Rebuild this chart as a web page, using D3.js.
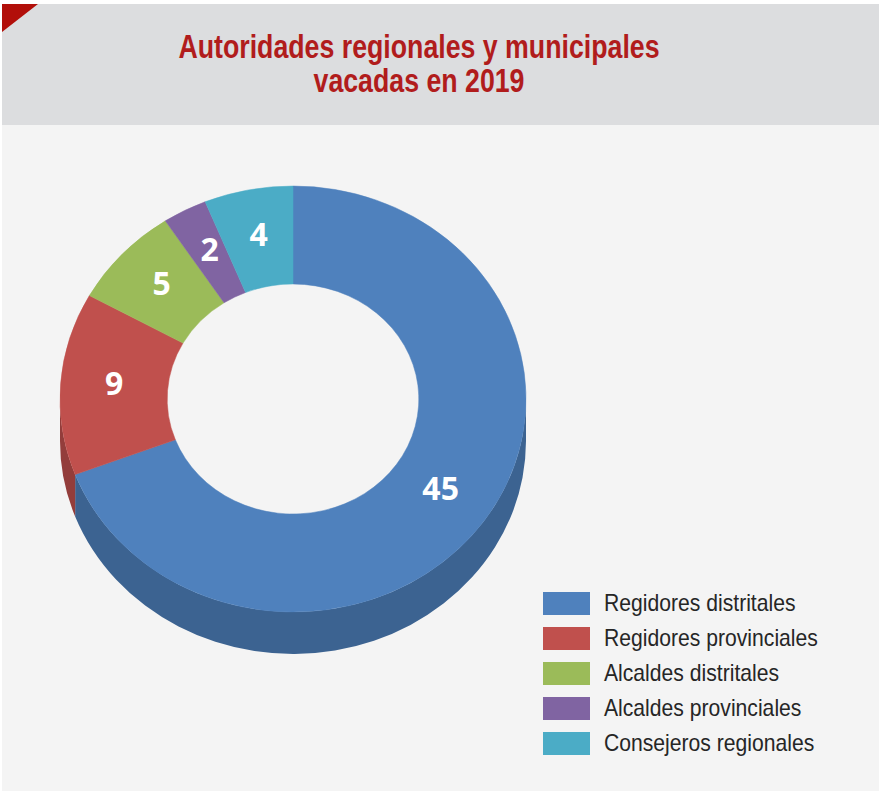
<!DOCTYPE html>
<html>
<head>
<meta charset="utf-8">
<script src="https://cdn.jsdelivr.net/npm/d3@7/dist/d3.min.js"></script>
<style>
  html, body { margin: 0; padding: 0; background: #ffffff; }
  svg { display: block; }
</style>
</head>
<body>
<svg id="chart" width="879" height="792"></svg>
<script>
// Chart data
const titleLines = ["Autoridades regionales y municipales", "vacadas en 2019"];
const categories = ["Regidores distritales", "Regidores provinciales", "Alcaldes distritales", "Alcaldes provinciales", "Consejeros regionales"];
const values = [45, 9, 5, 2, 4];
const colors = ["#4f81bd", "#c0504d", "#9bbb59", "#8064a2", "#4bacc6"];

const W = 879, H = 792;
const svg = d3.select("#chart");

// Panel background
svg.append("rect").attr("x", 2).attr("y", 4).attr("width", W - 2).attr("height", H - 5).attr("fill", "#f4f4f4");
svg.append("rect").attr("x", 2).attr("y", 4).attr("width", W - 2).attr("height", 121).attr("fill", "#dcdddf");
svg.append("path").attr("d", "M2,4 L38,4 L2,32 Z").attr("fill", "#b20f0a");

// Title
const title = svg.append("g").attr("transform", "translate(419,0)");
titleLines.forEach((t, i) => {
  title.append("text")
    .attr("transform", `translate(0,${58 + i * 34}) scale(0.81,1)`)
    .attr("text-anchor", "middle")
    .attr("font-family", "'Liberation Sans Narrow', 'Liberation Sans', Arial, sans-serif")
    .attr("font-weight", "bold")
    .attr("font-size", 33)
    .attr("fill", "#b11c1c")
    .text(t);
});

// 3D doughnut geometry
const cx = 293, cy = 399;
const rx = 233, tilt = 0.914;
const innerFrac = 0.54;
const depth = 42;

const pie = d3.pie().sort(null).value(d => d.value);
const arcs = pie(values.map((v, i) => ({ value: v, name: categories[i], color: colors[i] })));

const pt = (a, r, dy = 0) => [cx + r * Math.sin(a), cy - r * tilt * Math.cos(a) + dy];

function ellArc(a0, a1, r, sweep, dy = 0) {
  const p = pt(a1, r, dy);
  const large = Math.abs(a1 - a0) > Math.PI ? 1 : 0;
  return `A${r},${r * tilt} 0 ${large} ${sweep} ${p[0]},${p[1]}`;
}

const gWall = svg.append("g");
const gTop = svg.append("g");
const gLab = svg.append("g");

// Outer side wall: visible over the front half (right to left through the bottom)
const frontStart = Math.PI / 2, frontEnd = 3 * Math.PI / 2;
arcs.forEach(d => {
  const a0 = Math.max(d.startAngle, frontStart);
  const a1 = Math.min(d.endAngle, frontEnd);
  if (a1 <= a0) return;
  const p0 = pt(a0, rx);
  const p1d = pt(a1, rx, depth);
  const path = `M${p0[0]},${p0[1]} ${ellArc(a0, a1, rx, 1)} L${p1d[0]},${p1d[1]} ${ellArc(a1, a0, rx, 0, depth)} Z`;
  gWall.append("path")
    .attr("d", path)
    .attr("fill", d3.color(d.data.color).darker(0.75));
});

// Top face ring segments
const ri = rx * innerFrac;
arcs.forEach(d => {
  const a0 = d.startAngle, a1 = d.endAngle;
  const o0 = pt(a0, rx), i1 = pt(a1, ri);
  const path = `M${o0[0]},${o0[1]} ${ellArc(a0, a1, rx, 1)} L${i1[0]},${i1[1]} ${ellArc(a1, a0, ri, 0)} Z`;
  gTop.append("path")
    .attr("d", path)
    .attr("fill", d.data.color)
    .attr("stroke", d.data.color)
    .attr("stroke-width", 0.5);
});

// Value labels at the middle of each segment
const labR = rx * (1 + innerFrac) / 2;
arcs.forEach(d => {
  const m = (d.startAngle + d.endAngle) / 2;
  const p = pt(m, labR);
  gLab.append("text")
    .attr("x", p[0]).attr("y", p[1] - 5)
    .attr("text-anchor", "middle")
    .attr("dominant-baseline", "central")
    .attr("font-family", "'Open Sans', 'DejaVu Sans', sans-serif")
    .attr("font-weight", "bold")
    .attr("font-size", 32)
    .attr("fill", "#ffffff")
    .text(d.data.value);
});

// Legend
const legend = svg.append("g").attr("transform", "translate(543,592)");
const rows = legend.selectAll("g").data(categories).join("g")
  .attr("transform", (d, i) => `translate(0,${i * 35})`);
rows.append("rect").attr("width", 47).attr("height", 23).attr("fill", (d, i) => colors[i]);
rows.append("text")
  .attr("transform", "translate(61,18.5) scale(0.92,1)")
  .attr("font-family", "'Liberation Sans Narrow', 'Liberation Sans', Arial, sans-serif")
  .attr("font-size", 23)
  .attr("fill", "#262626")
  .text(d => d);
</script>
</body>
</html>
